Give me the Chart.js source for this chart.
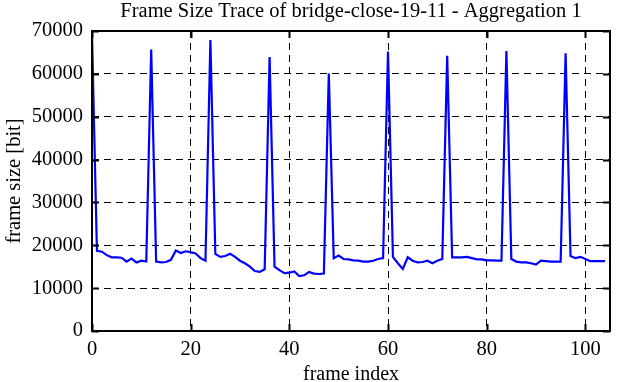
<!DOCTYPE html>
<html>
<head>
<meta charset="utf-8">
<script src="https://cdn.jsdelivr.net/npm/chart.js@4/dist/chart.umd.min.js"></script>
<style>
html,body{margin:0;padding:0;background:#fff;}
#wrap{width:627px;height:382px;position:relative;}
</style>
</head>
<body>
<div id="wrap"><canvas id="c" width="627" height="382"></canvas></div>
<script>
const chartTitle = "Frame Size Trace of bridge-close-19-11 - Aggregation 1";
const xAxisLabel = "frame index";
const yAxisLabel = "frame size [bit]";
const frameSizes = [
  69000, 18700, 18500, 17700, 17200, 17200, 17100, 16200, 16900, 16000,
  16400, 16200, 65700, 16200, 16000, 16100, 16600, 18800, 18200, 18600,
  18400, 18100, 17000, 16400, 67900, 18000, 17300, 17500, 18000, 17300,
  16400, 15800, 15000, 14000, 13800, 14400, 63900, 15000, 14200, 13500,
  13600, 13900, 12800, 13000, 13800, 13400, 13300, 13400, 60100, 17000,
  17600, 16800, 16700, 16500, 16400, 16200, 16200, 16400, 16800, 17000,
  65200, 17300, 15800, 14500, 17200, 16400, 16000, 16100, 16400, 15800,
  16400, 16800, 64200, 17200, 17200, 17200, 17300, 17000, 16700, 16700,
  16500, 16500, 16400, 16400, 65300, 16800, 16200, 16000, 16000, 15800,
  15500, 16400, 16300, 16200, 16200, 16200, 64800, 17500, 17000, 17300,
  16800, 16300, 16300, 16300, 16300
];
const frameIndex = frameSizes.map((v, i) => i);
const xTicks = [0, 20, 40, 60, 80, 100];
const yTicks = [0, 10000, 20000, 30000, 40000, 50000, 60000, 70000];

const FONT = "'Liberation Serif', 'DejaVu Serif', serif";

const framePlugin = {
  id: 'framePlugin',
  afterDraw(chart) {
    const {ctx, chartArea: a, scales} = chart;
    ctx.save();
    ctx.strokeStyle = '#000';
    ctx.lineWidth = 2;
    ctx.beginPath();
    const tl = 7;
    yTicks.forEach(v => {
      const y = Math.round(scales.y.getPixelForValue(v)) + 0.5;
      ctx.moveTo(a.left, y); ctx.lineTo(a.left + tl, y);
      ctx.moveTo(a.right, y); ctx.lineTo(a.right - tl, y);
    });
    xTicks.forEach(v => {
      const x = Math.round(scales.x.getPixelForValue(v)) + 0.5;
      ctx.moveTo(x, a.bottom); ctx.lineTo(x, a.bottom - tl);
      ctx.moveTo(x, a.top); ctx.lineTo(x, a.top + tl);
    });
    ctx.stroke();
    ctx.lineWidth = 2;
    ctx.strokeRect(a.left, a.top, a.right - a.left, a.bottom - a.top);
    ctx.fillStyle = '#000';
    ctx.font = "20.5px " + FONT;
    ctx.textAlign = 'center';
    ctx.textBaseline = 'middle';
    ctx.fillText(chartTitle, (a.left + a.right) / 2, 12);
    ctx.restore();
  }
};

new Chart(document.getElementById('c'), {
  type: 'line',
  data: {
    datasets: [{
      data: frameSizes.map((v, i) => ({x: frameIndex[i], y: v})),
      borderColor: '#0000ff',
      borderWidth: 2.2,
      pointRadius: 0,
      tension: 0,
      fill: false
    }]
  },
  options: {
    responsive: false,
    animation: false,
    devicePixelRatio: 1,
    layout: {padding: {top: 31, right: 17, left: 0, bottom: 0}},
    plugins: {legend: {display: false}, tooltip: {enabled: false}, title: {display: false}},
    scales: {
      x: {
        type: 'linear',
        min: 0, max: 105,
        afterFit(s) { s.height = 51; },
        afterBuildTicks(s) { s.ticks = xTicks.map(v => ({value: v})); },
        ticks: {font: {family: FONT, size: 20.5}, color: '#000', padding: 6, maxRotation: 0,
                callback: v => String(v)},
        grid: {color: '#000', lineWidth: 1, drawTicks: false},
        border: {display: false, dash: [7, 5]},
        title: {display: true, text: xAxisLabel, font: {family: FONT, size: 20, lineHeight: 0.7}, color: '#000', padding: {top: 0, bottom: 0}}
      },
      y: {
        min: 0, max: 70000,
        afterFit(s) { s.width = 92; },
        afterBuildTicks(s) { s.ticks = yTicks.map(v => ({value: v})); },
        ticks: {font: {family: FONT, size: 20.5}, color: '#000', padding: 9,
                callback: v => String(v)},
        grid: {color: '#000', lineWidth: 1, drawTicks: false},
        border: {display: false, dash: [7, 5]},
        title: {display: true, text: yAxisLabel, font: {family: FONT, size: 20.5}, color: '#000', padding: {top: 2, bottom: 0}}
      }
    }
  },
  plugins: [framePlugin]
});
</script>
</body>
</html>
